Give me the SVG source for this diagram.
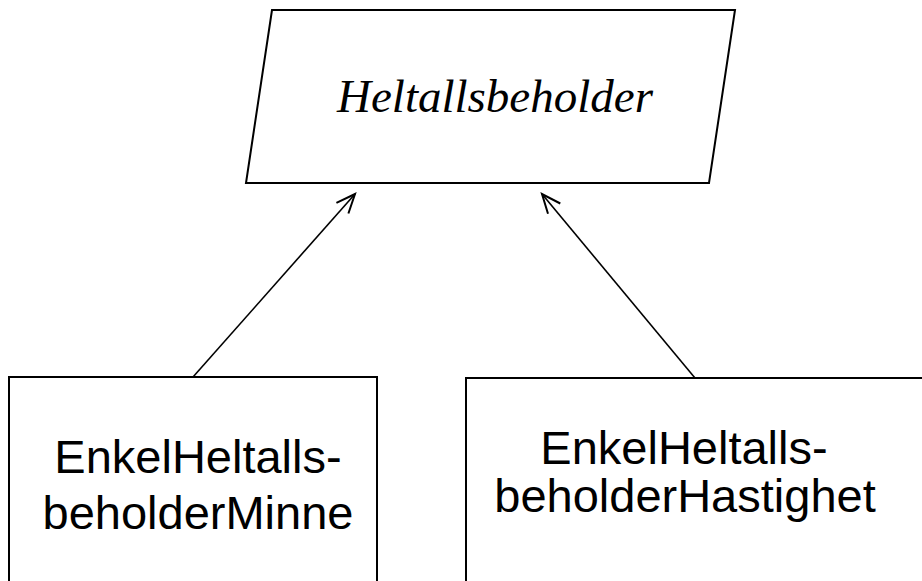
<svg xmlns="http://www.w3.org/2000/svg" width="922" height="581" viewBox="0 0 922 581">
<style>
.shape{fill:#fff;stroke:#000;stroke-width:2}
.conn{fill:none;stroke:#000;stroke-width:1.6}
.sans{font-family:"Liberation Sans",Arial,sans-serif;font-size:47px;fill:#000;text-anchor:middle}
.ital{font-family:"Liberation Serif","Times New Roman",serif;font-style:italic;font-size:47px;fill:#000;text-anchor:middle}
</style>
<defs>
<marker id="open" markerUnits="userSpaceOnUse" markerWidth="30" markerHeight="30" viewBox="-25 -15 30 30" refX="0" refY="0" orient="auto">
<path d="M-19,-8 L0,0 L-19,8" fill="none" stroke="#000" stroke-width="2"/>
</marker>
</defs>
<rect width="922" height="581" fill="#fff"/>
<g id="Heltallsbeholder">
<polygon class="shape" points="272,10 735,10 709,183 246,183"/>
<text class="ital" x="495" y="112">Heltallsbeholder</text>
</g>
<g id="EnkelHeltallsbeholderMinne">
<rect class="shape" x="9" y="377" width="368" height="220"/>
<text class="sans" x="198" y="473">EnkelHeltalls-</text>
<text class="sans" x="198" y="529">beholderMinne</text>
</g>
<g id="EnkelHeltallsbeholderHastighet">
<rect class="shape" x="466" y="378" width="470" height="220"/>
<text class="sans" x="684" y="464">EnkelHeltalls-</text>
<text class="sans" x="685" y="512">beholderHastighet</text>
</g>
<g id="connectors">
<line class="conn" x1="193" y1="377" x2="355" y2="194" marker-end="url(#open)"/>
<line class="conn" x1="695" y1="378" x2="542" y2="194" marker-end="url(#open)"/>
</g>
</svg>
